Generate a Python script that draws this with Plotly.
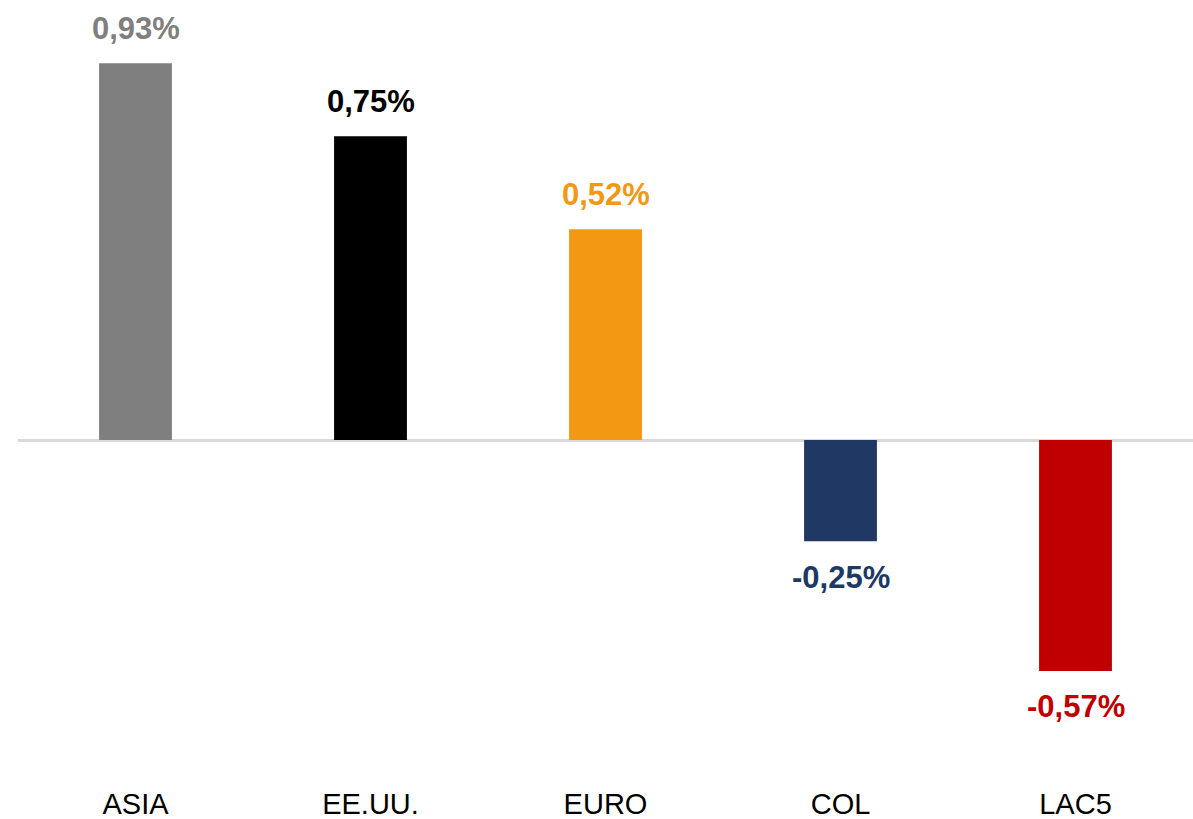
import plotly.graph_objects as go

categorias = ["ASIA", "EE.UU.", "EURO", "COL", "LAC5"]
valores = [0.93, 0.75, 0.52, -0.25, -0.57]
etiquetas = ["0,93%", "0,75%", "0,52%", "-0,25%", "-0,57%"]
colores = ["#7f7f7f", "#000000", "#f39813", "#203864", "#c00000"]

fig = go.Figure()

fig.add_trace(
    go.Bar(
        x=categorias,
        y=valores,
        marker={"color": colores, "line": {"width": 0}},
        hoverinfo="skip",
    )
)

anotaciones = []
for cat, val, txt, col in zip(categorias, valores, etiquetas, colores):
    anotaciones.append({
        "x": cat,
        "y": val,
        "text": "<b>" + txt + "</b>",
        "showarrow": False,
        "yanchor": "middle",
        "yshift": 35 if val > 0 else -36,
        "font": {"color": col, "size": 31, "family": "Liberation Sans, Arial"},
    })

fig.update_layout(
    width=1193,
    height=819,
    margin={"t": 0, "r": 0, "l": 18, "b": 50},
    plot_bgcolor="white",
    paper_bgcolor="white",
    showlegend=False,
    bargap=0.69,
    font={"family": "Liberation Sans, Arial", "color": "black"},
    annotations=anotaciones,
    xaxis={
        "showgrid": False,
        "showline": False,
        "ticks": "",
        "tickfont": {"size": 29, "color": "black"},
        "ticklabelstandoff": 15,
    },
    yaxis={
        "range": [-0.812, 1.086],
        "showgrid": False,
        "showticklabels": False,
        "zeroline": True,
        "zerolinecolor": "#d9d9d9",
        "zerolinewidth": 2.5,
    },
)

fig.write_html("out.html", config={"displayModeBar": False},
               post_script="document.body.style.margin='0';")
